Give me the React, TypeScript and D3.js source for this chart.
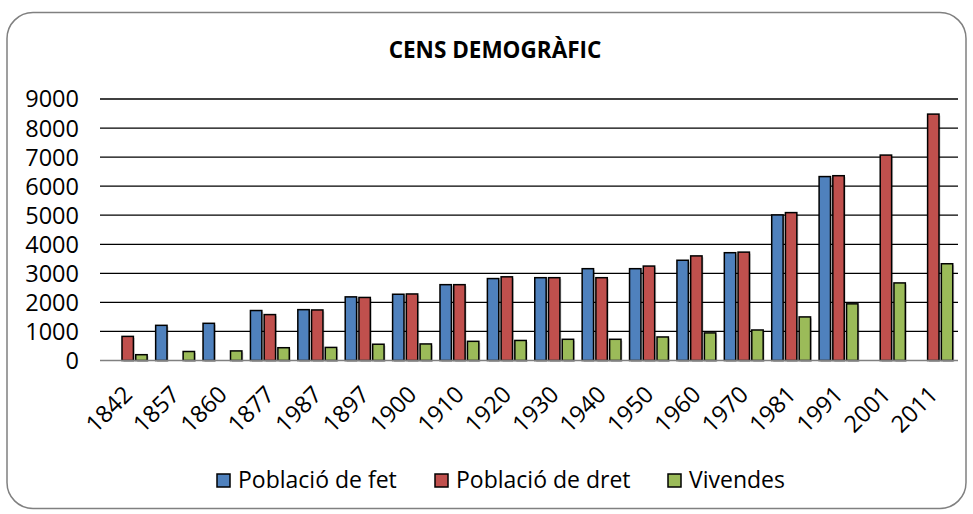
import * as d3 from "d3";

const years = ["1842", "1857", "1860", "1877", "1987", "1897", "1900", "1910", "1920", "1930", "1940", "1950", "1960", "1970", "1981", "1991", "2001", "2011"];
const poblacioFet = [null, 1210, 1280, 1720, 1750, 2190, 2280, 2610, 2820, 2850, 3160, 3160, 3450, 3710, 5010, 6330, null, null];
const poblacioDret = [830, null, null, 1580, 1740, 2170, 2290, 2610, 2880, 2850, 2850, 3250, 3600, 3730, 5090, 6360, 7070, 8480];
const vivendes = [200, 310, 330, 440, 450, 560, 570, 660, 690, 730, 730, 810, 950, 1050, 1500, 1950, 2670, 3330];
const seriesNames = ["Població de fet", "Població de dret", "Vivendes"];
const seriesColors = ["#4F81BD", "#C0504D", "#9BBB59"];
const yTicks = [0, 1000, 2000, 3000, 4000, 5000, 6000, 7000, 8000, 9000];

const W = 973;
const H = 514;
const FONT = "'Open Sans', sans-serif";

function App() {
    const allSeries = [poblacioFet, poblacioDret, vivendes];

    // scales
    const x0 = d3.scaleBand<string>().domain(years).range([104, 957]).paddingInner(0.18).paddingOuter(0.09);
    const x1 = d3.scaleBand<string>().domain(seriesNames).range([0, x0.bandwidth()]).paddingInner(0.17);
    const y = d3.scaleLinear().domain([0, 9000]).range([360.5, 99]);

    const legendX = [217, 435, 668];

    return (
        <svg width={W} height={H} style={{ display: "block", position: "absolute", left: 0, top: 0 }}>
            <rect x={7} y={12.5} width={959} height={496} rx={26} fill="#fff" stroke="#808080" strokeWidth={1.5} />
            <text x={495} y={58} textAnchor="middle" fontFamily={FONT} fontWeight="bold" fontSize={22.5}>
                CENS DEMOGRÀFIC
            </text>

            {/* gridlines + y labels */}
            {yTicks.map((t) => (
                <g key={t}>
                    {t > 0 && <line x1={100} x2={958} y1={y(t)} y2={y(t)} stroke="#000" strokeWidth={1.3} />}
                    <text x={79} y={y(t)} dy="0.36em" textAnchor="end" fontFamily={FONT} fontSize={23.5}>
                        {t}
                    </text>
                </g>
            ))}

            {/* bars */}
            {years.map((yr, i) => (
                <g key={yr} transform={`translate(${x0(yr)},0)`}>
                    {allSeries.map((s, j) => {
                        const v = s[i];
                        if (v == null) return null;
                        const bx = x1(seriesNames[j])!;
                        const bw = x1.bandwidth();
                        return (
                            <g key={j}>
                                <rect x={bx + 1.5} y={y(v) + 1.5} width={bw} height={y(0) - y(v)} fill="#000" opacity={0.18} />
                                <rect x={bx} y={y(v)} width={bw} height={y(0) - y(v)} fill={seriesColors[j]} stroke="#000" strokeWidth={1.5} />
                            </g>
                        );
                    })}
                </g>
            ))}

            <line x1={100} x2={958} y1={y(0)} y2={y(0)} stroke="#808080" strokeWidth={1.5} />

            {/* x labels */}
            {years.map((yr) => {
                const cx = x0(yr)! + x0.bandwidth() / 2;
                return (
                    <text key={yr} transform={`translate(${cx + 6},396) rotate(-45)`} textAnchor="end" fontFamily={FONT} fontSize={23.5}>
                        {yr}
                    </text>
                );
            })}

            {/* legend */}
            {seriesNames.map((name, j) => (
                <g key={name}>
                    <rect x={legendX[j]} y={474} width={13} height={13} fill={seriesColors[j]} stroke="#000" strokeWidth={1.5} />
                    <text x={legendX[j] + 21} y={487.5} fontFamily={FONT} fontSize={23}>
                        {name}
                    </text>
                </g>
            ))}
        </svg>
    );
}

export default App;
